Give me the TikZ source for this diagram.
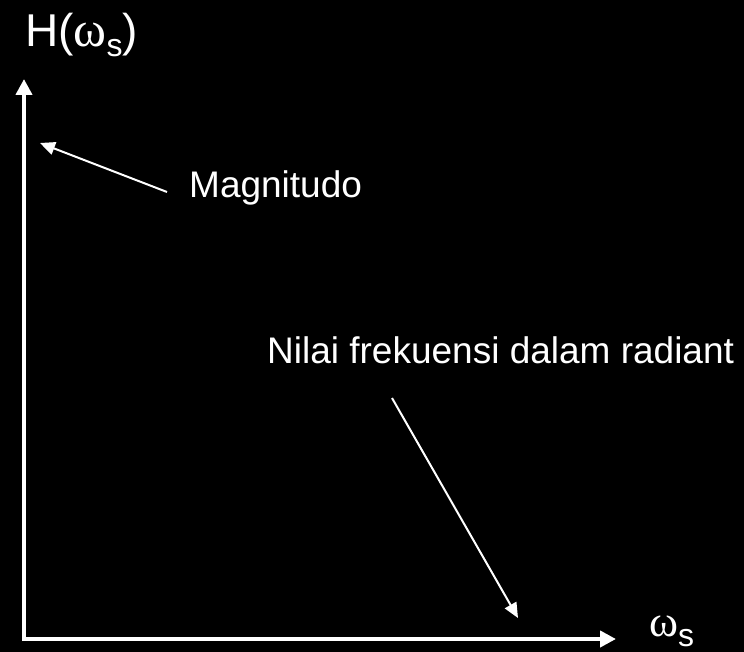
\documentclass[tikz,border=0pt]{standalone}
\usepackage{fontspec}
\setmainfont{Liberation Sans}
\newfontfamily\symfont{Liberation Serif}
\usetikzlibrary{arrows.meta}
\tikzset{
  axis/.style={white, line width=4pt, -{Triangle[length=16pt,width=16pt]}},
  pointer/.style={white, line width=2pt, -{Triangle[length=15pt,width=13pt]}},
  lbl/.style={white, inner sep=0pt, anchor=base west, font=\fontsize{37}{44}\selectfont},
}
\begin{document}
\begin{tikzpicture}[x=1pt,y=-1pt]
\fill[black] (0,0) rectangle (744,652);
\useasboundingbox (0,0) rectangle (744,652);
\coordinate (origV) at (24,641);
\coordinate (topV) at (24,79);
\coordinate (origH) at (22,639);
\coordinate (endH) at (616,639);
\draw[axis] (origV) -- (topV);
\draw[axis] (origH) -- (endH);
\node[lbl, font=\fontsize{46}{52}\selectfont] (title) at (25,47) {H({\symfont\fontsize{50}{54}\selectfont ω}\raisebox{-10pt}{\fontsize{32}{36}\selectfont s})};
\node[lbl] (xl) at (649,636) {{\symfont\fontsize{44}{48}\selectfont ω}\raisebox{-10pt}{\fontsize{32}{36}\selectfont s}};
\node[lbl] (mag) at (189,198) {Magnitudo};
\node[lbl] (nil) at (267,363) {Nilai frekuensi dalam radiant};
\coordinate (magS) at (167,192);
\coordinate (magT) at (40,143);
\coordinate (nilS) at (392,398);
\coordinate (nilT) at (518,618);
\draw[pointer] (magS) -- (magT);
\draw[pointer] (nilS) -- (nilT);
\end{tikzpicture}
\end{document}
